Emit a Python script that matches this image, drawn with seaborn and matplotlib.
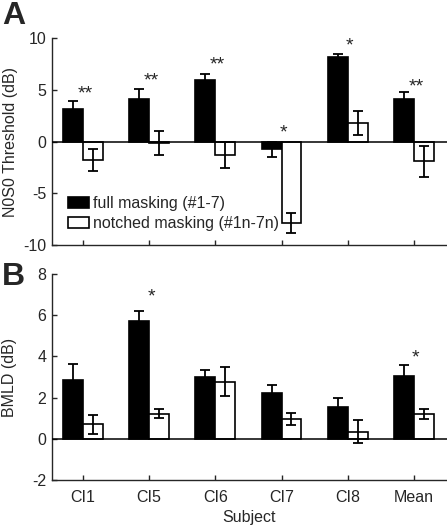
import numpy as np
import pandas as pd
import seaborn as sns
import matplotlib.pyplot as plt

subjects = ['CI1', 'CI5', 'CI6', 'CI7', 'CI8', 'Mean']
conditions = ['full masking (#1-7)', 'notched masking (#1n-7n)']

# panel A: N0S0 threshold (dB)
thr_full = [3.1, 4.1, 5.9, -0.75, 8.2, 4.15]
thr_full_err = [0.8, 1.0, 0.6, 0.7, 0.3, 0.6]
thr_notch = [-1.8, -0.15, -1.3, -7.9, 1.8, -1.9]
thr_notch_err = [1.05, 1.2, 1.3, 0.95, 1.15, 1.5]
stars_a = ['**', '**', '**', '*', '*', '**']
stars_a_y = [5.3, 6.6, 8.1, 1.55, 10.0, 6.0]

# panel B: BMLD (dB)
bmld_full = [2.85, 5.7, 3.0, 2.2, 1.55, 3.05]
bmld_full_err = [0.78, 0.5, 0.32, 0.4, 0.45, 0.52]
bmld_notch = [0.7, 1.22, 2.78, 0.94, 0.35, 1.2]
bmld_notch_err = [0.45, 0.22, 0.7, 0.29, 0.54, 0.25]
stars_b = ['', '*', '', '', '', '*']
stars_b_y = [0, 7.24, 0, 0, 0, 4.29]

sns.set_style("ticks")
plt.rcParams['font.family'] = ['Liberation Sans', 'DejaVu Sans']
plt.rcParams['axes.unicode_minus'] = False
FS = 11.5
STAR_FS = 14


def make_df(full, notch):
    return pd.DataFrame({
        'subject': subjects * 2,
        'value': full + notch,
        'cond': [conditions[0]] * len(subjects) + [conditions[1]] * len(subjects),
    })


def draw_panel(ax, full, full_err, notch, notch_err, stars, stars_y, show_legend):
    df = make_df(full, notch)
    sns.barplot(data=df, x='subject', y='value', hue='cond', order=subjects,
                hue_order=conditions, palette=['black', 'white'], saturation=1,
                edgecolor='black', linewidth=1.2, width=0.6, gap=0,
                errorbar=None, legend=show_legend, ax=ax, zorder=2)
    for cont, errs in zip(ax.containers, [full_err, notch_err]):
        xs = [b.get_x() + b.get_width() / 2 for b in cont]
        ys = [b.get_height() for b in cont]
        ax.errorbar(xs, ys, yerr=errs, fmt='none', ecolor='black',
                    elinewidth=1.3, capsize=3.3, capthick=1.3, zorder=3)
    ax.axhline(0, color='black', lw=1.1, zorder=4)
    for i, (s, y) in enumerate(zip(stars, stars_y)):
        if s:
            ax.annotate(s, (i + 0.03, y), xytext=(0, -0.62 * STAR_FS), textcoords='offset points',
                        ha='center', va='baseline', fontsize=STAR_FS)
    ax.set_xlim(-0.47, 5.5)
    sns.despine(ax=ax)
    for sp in ['left', 'bottom']:
        ax.spines[sp].set_linewidth(1.0)
    ax.tick_params(direction='in', length=3.5, width=1.0, labelsize=FS, pad=4)
    ax.tick_params(axis='x', pad=7.5)


fig = plt.figure(figsize=(4.47, 5.29), dpi=100)
ax_a = fig.add_axes([0.116, 0.537, 0.884, 0.391])
ax_b = fig.add_axes([0.116, 0.0926, 0.884, 0.3894])

draw_panel(ax_a, thr_full, thr_full_err, thr_notch, thr_notch_err, stars_a, stars_a_y, True)
ax_a.set_ylim(-10, 10)
ax_a.set_yticks([-10, -5, 0, 5, 10])
ax_a.tick_params(labelbottom=False)
ax_a.set_xlabel('')
ax_a.set_ylabel('N0S0 Threshold (dB)', fontsize=FS, labelpad=4)
ax_a.legend(loc='upper left', bbox_to_anchor=(0.04, 0.235), frameon=False,
            fontsize=FS, handlelength=1.35, handleheight=0.7, handletextpad=0.25,
            labelspacing=0.3, borderpad=0, borderaxespad=0)

draw_panel(ax_b, bmld_full, bmld_full_err, bmld_notch, bmld_notch_err, stars_b, stars_b_y, False)
ax_b.set_ylim(-2, 8)
ax_b.set_yticks([-2, 0, 2, 4, 6, 8])
ax_b.set_xlabel('Subject', fontsize=FS, labelpad=3.5)
ax_b.set_ylabel('BMLD (dB)', fontsize=FS, labelpad=11)

fig.text(0.005, 0.998, 'A', fontsize=23, fontweight='bold', va='top', ha='left')
fig.text(0.005, 0.505, 'B', fontsize=23, fontweight='bold', va='top', ha='left')

plt.savefig('out.png', dpi=100)
